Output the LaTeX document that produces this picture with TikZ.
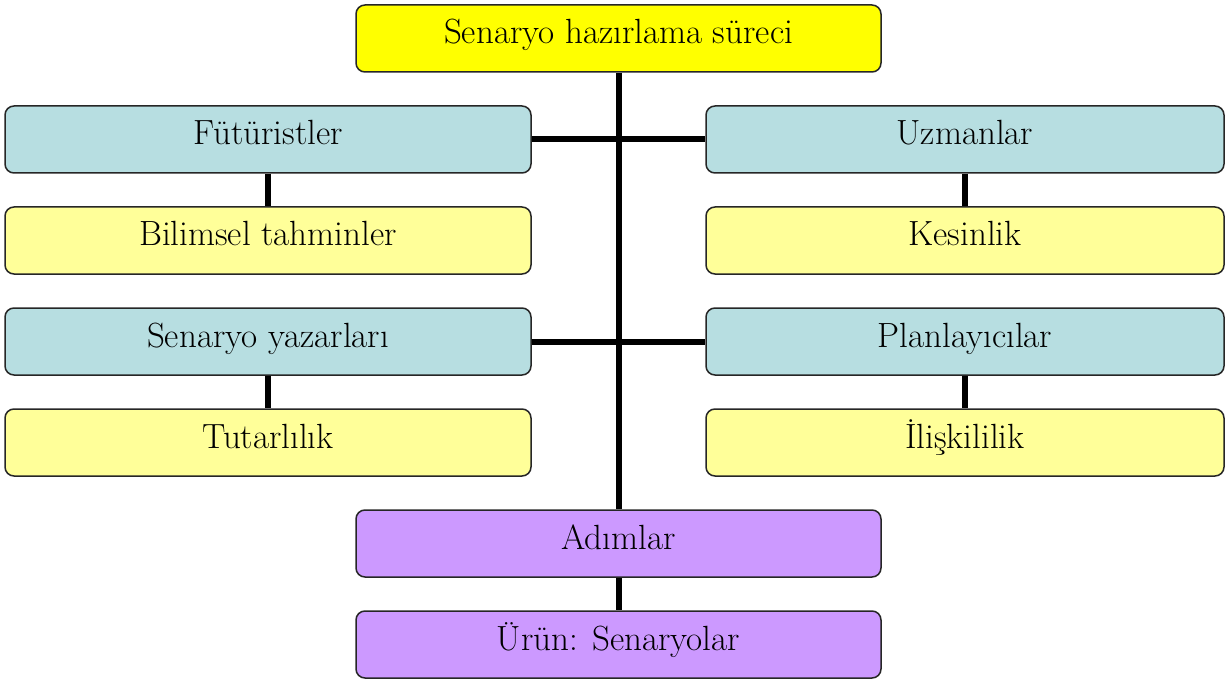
\documentclass[tikz,border=0pt]{standalone}
\usepackage{fontspec}
\begin{document}
\begin{tikzpicture}[x=1pt,y=-1pt,
  box/.style={draw=black!85, line width=1.5pt, rounded corners=9pt, minimum height=67pt,
    inner sep=0pt, text height=24pt, text depth=13pt, font=\fontsize{35}{40}\selectfont, text=black},
  topbox/.style={box, fill=cYellow, minimum width=525pt},
  midbox/.style={box, fill=cPurple, minimum width=525pt},
  lbox/.style={box, minimum width=526pt},
  rbox/.style={box, minimum width=518pt},
  role/.style={fill=cBlue},
  trait/.style={fill=cLight},
  link/.style={line width=6pt, black}]
\definecolor{cYellow}{HTML}{FFFF00}
\definecolor{cPurple}{HTML}{CC99FF}
\definecolor{cBlue}{HTML}{B7DEE1}
\definecolor{cLight}{HTML}{FFFF99}
\useasboundingbox (0,0) rectangle (1226,679);
\node[topbox] (top) at (618.5,38.5) {Senaryo hazırlama süreci};
\node[lbox,role] (fut) at (268,139.5) {Fütüristler};
\node[lbox,trait] (bil) at (268,240.5) {Bilimsel tahminler};
\node[lbox,role] (yaz) at (268,341.5) {Senaryo yazarları};
\node[lbox,trait] (tut) at (268,442.5) {Tutarlılık};
\node[rbox,role] (uzm) at (965,139.5) {Uzmanlar};
\node[rbox,trait] (kes) at (965,240.5) {Kesinlik};
\node[rbox,role] (pla) at (965,341.5) {Planlayıcılar};
\node[rbox,trait] (ili) at (965,442.5) {İlişkililik};
\node[midbox] (adim) at (618.5,543.5) {Adımlar};
\node[midbox] (urun) at (618.5,644.5) {Ürün: Senaryolar};
\draw[link] (top.south) -- (adim.north);
\draw[link] (fut.east) -- (uzm.west);
\draw[link] (yaz.east) -- (pla.west);
\draw[link] (fut.south) -- (bil.north);
\draw[link] (yaz.south) -- (tut.north);
\draw[link] (uzm.south) -- (kes.north);
\draw[link] (pla.south) -- (ili.north);
\draw[link] (adim.south) -- (urun.north);
\end{tikzpicture}
\end{document}
